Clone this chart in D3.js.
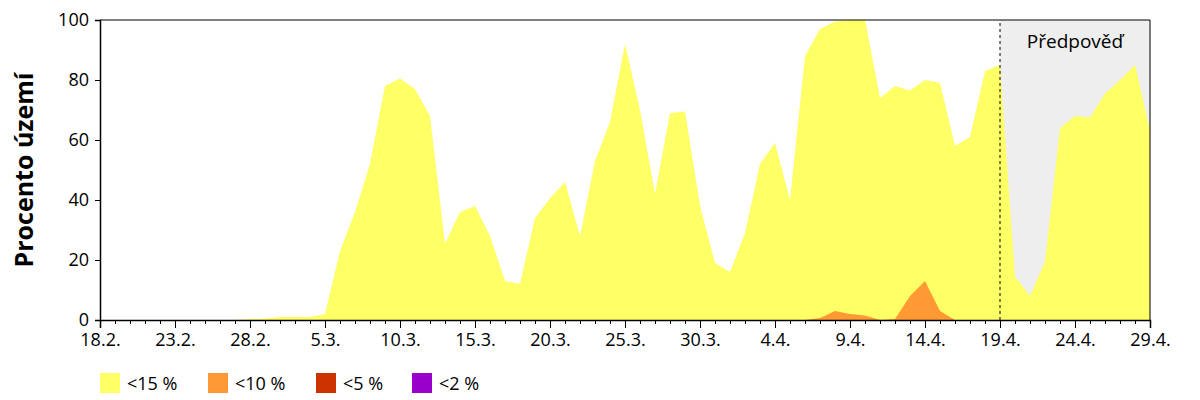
<!DOCTYPE html>
<html><head><meta charset="utf-8">
<script src="https://cdn.jsdelivr.net/npm/d3@7"></script>
<style>body{margin:0;background:#fff}text{font-family:"Open Sans",sans-serif}</style>
</head><body><div id="chart"></div>
<script>
// days from 18.2. (0) to 29.4. (70)
const under15 = [0,0,0,0,0,0,0,0,0,0,0.3,0.5,1,1,1,2,23,36,52,78,80.5,77,68,25.5,36,38,28,13,12,34,40.6,46,28,53,66,92,70,42,69,69.5,
  38,19,16,29,52,59,40,88,97,99.5,100,100,74,78,76.5,80,79,58,61,83,85,14.5,8,19.5,64,68,67.5,75.5,80,85,63]
const under10 = [0,0,0,0,0,0,0,0,0,0,0,0,0,0,0,0,0,0,0,0,0,0,0,0,0,0,0,0,0,0,0,0,0,0,0,0,0,0,0,0,
  0,0,0,0,0,0,0,0,0.7,3,2,1.5,0,0.3,8,13,3,0,0,0,0,0,0,0,0,0,0,0,0,0,0]
const tickLabels = ["18.2.","23.2.","28.2.","5.3.","10.3.","15.3.","20.3.","25.3.","30.3.","4.4.","9.4.","14.4.","19.4.","24.4.","29.4."]
const legendLabels = ["<15 %","<10 %","<5 %","<2 %"]
const legendColors = ["#ffff66","#ff9933","#cc3300","#9900cc"]
const forecastStart = 60

const W = 1200, H = 400
const M = { LEFT: 100, RIGHT: 50, TOP: 20, BOTTOM: 80 }
const svg = d3.select("#chart").append("svg").attr("width", W).attr("height", H)

const x = d3.scaleLinear().domain([0, 70]).range([M.LEFT, W - M.RIGHT])
const y = d3.scaleLinear().domain([0, 100]).range([H - M.BOTTOM, M.TOP])

svg.append("rect").attr("x", x(forecastStart)).attr("y", y(100))
  .attr("width", x(70) - x(forecastStart)).attr("height", y(0) - y(100)).attr("fill", "#eeeeee")

const area = d3.area().x((d, i) => x(i)).y0(y(0)).y1(d => y(d))
svg.append("path").datum(under15).attr("d", area).attr("fill", legendColors[0])
svg.append("path").datum(under10).attr("d", area).attr("fill", legendColors[1])

svg.append("line").attr("x1", x(forecastStart)).attr("x2", x(forecastStart))
  .attr("y1", y(0)).attr("y2", y(100)).attr("stroke", "#000").attr("stroke-dasharray", "3,3")
svg.append("text").attr("x", (x(forecastStart) + x(70)) / 2).attr("y", 48)
  .attr("text-anchor", "middle").attr("font-size", 19).text("Předpověď")

// frame top/right
svg.append("path").attr("d", `M${x(0)},${y(100)}H${x(70)}V${y(0)}`).attr("fill", "none").attr("stroke", "#000")

const yAxis = svg.append("g").attr("transform", `translate(${M.LEFT},0)`)
  .call(d3.axisLeft(y).tickValues([0,20,40,60,80,100]).tickSize(5).tickPadding(6))
yAxis.selectAll("text").attr("font-size", 18).attr("dy", "0.3em").style("font-family", "Open Sans")

const minor = svg.append("g").attr("transform", `translate(0,${y(0)})`)
  .call(d3.axisBottom(x).tickValues(d3.range(0, 71)).tickSize(4).tickFormat(""))
minor.select(".domain").remove()
const xAxis = svg.append("g").attr("transform", `translate(0,${y(0)})`)
  .call(d3.axisBottom(x).tickValues(d3.range(0, 71, 5)).tickSize(8).tickPadding(5)
    .tickFormat((d, i) => tickLabels[i]))
xAxis.selectAll("text").attr("font-size", 18).style("font-family", "Open Sans")
svg.selectAll(".domain").attr("stroke-width", 1.5)

svg.append("text").attr("transform", `translate(33,${(y(0) + y(100)) / 2}) rotate(-90)`)
  .attr("text-anchor", "middle").attr("font-size", 25).attr("font-weight", "bold").text("Procento území")

const leg = svg.append("g").attr("transform", "translate(100,373)")
  .selectAll("g").data(legendLabels).join("g").attr("transform", (d, i) => `translate(${[0,108,216,312][i]},0)`)
leg.append("rect").attr("width", 20).attr("height", 20).attr("fill", (d, i) => legendColors[i])
leg.append("text").attr("x", 27).attr("y", 17).attr("font-size", 18).text(d => d)
</script></body></html>
